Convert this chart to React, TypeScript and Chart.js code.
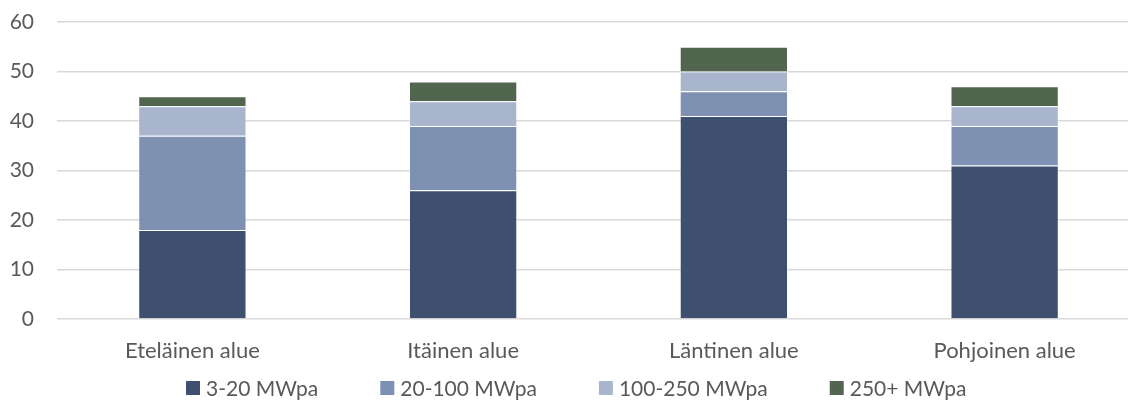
import React, { useEffect, useRef } from "react";
import { Chart, registerables } from "chart.js";

Chart.register(...registerables);

const categories = ["Eteläinen alue", "Itäinen alue", "Läntinen alue", "Pohjoinen alue"];
const seriesNames = ["3-20 MWpa", "20-100 MWpa", "100-250 MWpa", "250+ MWpa"];
const small = [18, 26, 41, 31];
const medium = [19, 13, 5, 8];
const large = [6, 5, 4, 4];
const xlarge = [2, 4, 5, 4];
const yTicks = [0, 10, 20, 30, 40, 50, 60];

const colors = ["#3F4F6F", "#7F91B3", "#A9B5CD", "#52654F"];
const textColor = "#595959";
const fontFamily = "Lato";

// Legend drawn in a single row below the category labels
const bottomLegend = {
  id: "bottomLegend",
  afterDraw(chart: any) {
    const ctx = chart.ctx as CanvasRenderingContext2D;
    const y = 388;
    const box = 14;
    let x = 186;
    ctx.save();
    ctx.font = `21px ${fontFamily}`;
    ctx.textBaseline = "middle";
    ctx.textAlign = "left";
    chart.data.datasets.forEach((ds: any) => {
      ctx.fillStyle = ds.backgroundColor;
      ctx.fillRect(x, y - box / 2, box, box);
      ctx.fillStyle = textColor;
      ctx.fillText(ds.label, x + box + 6, y + 1);
      x += box + 6 + ctx.measureText(ds.label).width + 62;
    });
    ctx.restore();
  },
};

export default function App() {
  const canvasRef = useRef<HTMLCanvasElement | null>(null);

  useEffect(() => {
    document.body.style.margin = "0";
    const ctx = canvasRef.current;
    if (!ctx) return;
    const values = [small, medium, large, xlarge];
    const chart = new Chart(ctx, {
      type: "bar",
      data: {
        labels: categories,
        datasets: seriesNames.map((name, i) => ({
          label: name,
          data: values[i],
          backgroundColor: colors[i],
          borderColor: "rgba(255,255,255,0.35)",
          borderWidth: 1,
          barPercentage: 0.4,
          categoryPercentage: 1,
        })),
      },
      options: {
        animation: false,
        responsive: false,
        maintainAspectRatio: false,
        layout: { padding: { left: 0, right: 0, top: 22, bottom: 0 } },
        plugins: {
          tooltip: { enabled: false },
          legend: { display: false },
        },
        scales: {
          x: {
            stacked: true,
            grid: { display: false },
            border: { display: false },
            ticks: { color: textColor, font: { family: fontFamily, size: 22 }, padding: 11 },
            afterFit: (axis: any) => {
              axis.height = 82;
            },
          },
          y: {
            stacked: true,
            min: 0,
            max: 60,
            afterBuildTicks: (axis: any) => {
              axis.ticks = yTicks.map((v) => ({ value: v }));
            },
            afterFit: (axis: any) => {
              axis.width = 57;
              axis.paddingTop = 0;
              axis.paddingBottom = 0;
            },
            grid: { color: "#D9D9D9", lineWidth: 1.5, drawTicks: false },
            border: { display: false },
            ticks: { color: textColor, font: { family: fontFamily, size: 21 }, padding: 23 },
          },
        },
      },
      plugins: [bottomLegend],
    });
    return () => chart.destroy();
  }, []);

  return (
    <div style={{ width: 1128, height: 401, overflow: "hidden", position: "relative" }}>
      <canvas ref={canvasRef} width={1140} height={401} style={{ display: "block" }} />
    </div>
  );
}
